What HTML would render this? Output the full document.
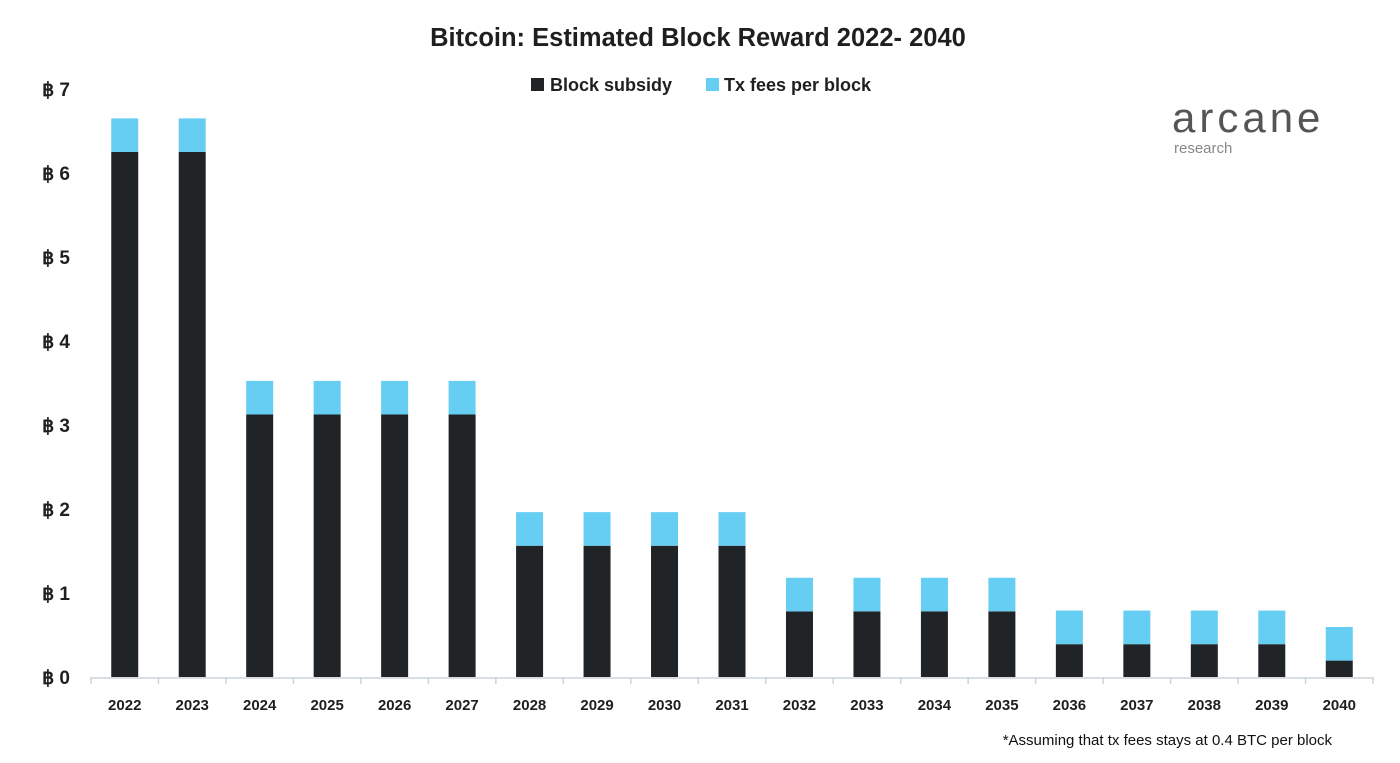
<!DOCTYPE html>
<html><head><meta charset="utf-8"><style>
body{margin:0;background:#fff;width:1400px;height:758px;overflow:hidden;font-family:"Liberation Sans",Arial,sans-serif;}
</style></head><body>
<svg id="chart" width="1400" height="758" xmlns="http://www.w3.org/2000/svg">
<text x="698" y="46" text-anchor="middle" font-size="25.5" font-weight="bold" fill="#1f1f1f">Bitcoin: Estimated Block Reward  2022- 2040</text>
<g>
<g><rect x="531" y="78" width="13" height="13" fill="#212427"/><text x="550" y="91" font-size="18" font-weight="bold" fill="#1f1f1f">Block subsidy</text></g>
<g><rect x="706" y="78" width="13" height="13" fill="#66cdf3"/><text x="724" y="91" font-size="18" font-weight="bold" fill="#1f1f1f">Tx fees per block</text></g>
</g>
<g>
<text x="1172" y="132" font-size="42" fill="#555" letter-spacing="4">arcane</text>
<text x="1174" y="153" font-size="15" fill="#888">research</text>
</g>
<g id="yaxis"></g>
<g id="bars"></g>
<g id="xaxis"></g>
<text x="1332" y="745" text-anchor="end" font-size="15" fill="#111">*Assuming that tx fees stays at 0.4 BTC per block</text>
</svg>
<script>
const years=["2022","2023","2024","2025","2026","2027","2028","2029","2030","2031","2032","2033","2034","2035","2036","2037","2038","2039","2040"];
const subsidy=[6.25,6.25,3.125,3.125,3.125,3.125,1.5625,1.5625,1.5625,1.5625,0.78125,0.78125,0.78125,0.78125,0.390625,0.390625,0.390625,0.390625,0.1953];
const fees=[0.4,0.4,0.4,0.4,0.4,0.4,0.4,0.4,0.4,0.4,0.4,0.4,0.4,0.4,0.4,0.4,0.4,0.4,0.4];
const yTicks=[0,1,2,3,4,5,6,7];
const NS="http://www.w3.org/2000/svg";
const x0=91,x1=1373,y0=677,yTop=89;
const band=(x1-x0)/years.length;
const y=v=>y0-(v/7)*(y0-yTop);
const xc=i=>x0+band*(i+0.5);
function mk(t,a,p){const e=document.createElementNS(NS,t);for(const k in a)e.setAttribute(k,a[k]);p.appendChild(e);return e;}
const ya=document.getElementById('yaxis'),bg=document.getElementById('bars'),xa=document.getElementById('xaxis');
yTicks.forEach(v=>{const t=mk('text',{x:70,y:y(v)+7,'text-anchor':'end','font-size':19,'font-weight':'bold',fill:'#1f1f1f'},ya);t.textContent='฿ '+v;

});
const bw=27;
years.forEach((yr,i)=>{
const r=mk('rect',{x:xc(i)-bw/2,y:y(subsidy[i]),width:bw,height:y0-y(subsidy[i]),fill:'#212427'},bg);


const f=mk('rect',{x:xc(i)-bw/2,y:y(subsidy[i]+fees[i]),width:bw,height:y(subsidy[i])-y(subsidy[i]+fees[i]),fill:'#66cdf3'},bg);


const l=mk('text',{x:xc(i),y:710,'text-anchor':'middle','font-size':15,'font-weight':'bold',fill:'#1f1f1f'},xa);l.textContent=yr;


});
const al=mk('line',{x1:x0,x2:x1,y1:y0+1,y2:y0+1,stroke:'#ccd3d8','stroke-width':1.5},xa);


for(let i=0;i<=years.length;i++){const tk=mk('line',{x1:x0+band*i,x2:x0+band*i,y1:y0,y2:y0+7,stroke:'#ccd3d8','stroke-width':1.5},xa);

}
</script>
</body></html>
